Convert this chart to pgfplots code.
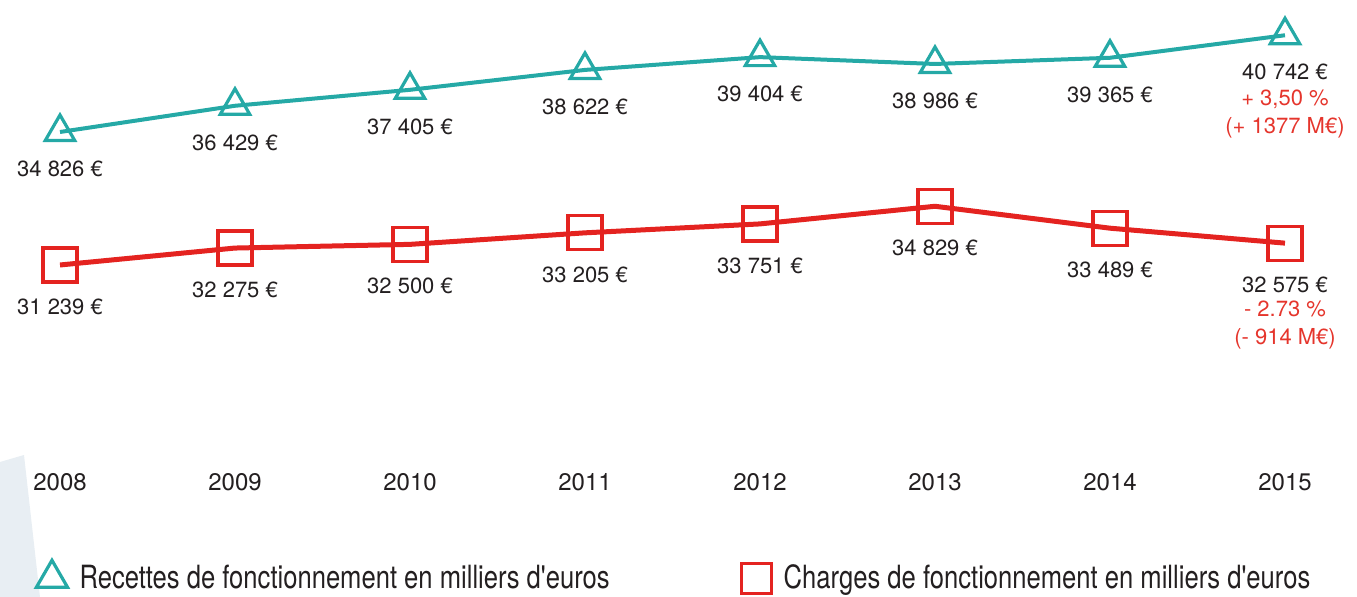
\documentclass[border=0pt]{standalone}
\usepackage{pgfplots}
\pgfplotsset{compat=1.18}
\usepackage{fontspec}
\setmainfont{TeX Gyre Heros}
\newfontfamily\legfont{TeX Gyre Heros}[FakeStretch=0.8]
\definecolor{teal1}{HTML}{25A9A6}
\definecolor{red1}{HTML}{E42320}
\definecolor{txt}{HTML}{231F20}
\definecolor{redtxt}{HTML}{E5352C}
\definecolor{bgshape}{HTML}{E8EEF3}
\pgfplotsset{base/.style={scale only axis, width=612.5pt, height=222.5pt,
  xmin=2008, xmax=2015, clip=false, axis line style={draw=none},
  ytick=\empty, major tick length=0pt, at={(30pt,66pt)}, anchor=south west}}
\begin{document}
\begin{tikzpicture}
\path[use as bounding box] (0,0) rectangle (678.5pt,298.5pt);
\fill[bgshape] (0,67.5pt) -- (12pt,71pt) -- (20pt,0) -- (0,0) -- cycle;
% Recettes
\begin{axis}[base, ymin=14460, ymax=41676, xtick=\empty]
\addplot[teal1, line width=2pt, mark=triangle, mark size=8.5pt,
  mark options={fill=white, line width=1.6pt, solid},
  point meta=explicit symbolic, nodes near coords,
  every node near coord/.style={anchor=center, yshift=-18.5pt, inner sep=0pt,
    font=\fontsize{11}{13}\selectfont, text=txt}]
coordinates {
(2008,34826) [34 826 €]
(2009,36429) [36 429 €]
(2010,37405) [37 405 €]
(2011,38622) [38 622 €]
(2012,39404) [39 404 €]
(2013,38986) [38 986 €]
(2014,39365) [39 365 €]
(2015,40742) [40 742 €]
};
\node[text=redtxt, font=\fontsize{11}{14}\selectfont, align=center, anchor=center, inner sep=0pt, yshift=-39.5pt]
  at (axis cs:2015,40742) {+ 3,50 \%\\(+ 1377 M€)};
\end{axis}
% Charges
\begin{axis}[base, ymin=19007, ymax=46223,
  xtick={2008,2009,2010,2011,2012,2013,2014,2015},
  xticklabels={2008,2009,2010,2011,2012,2013,2014,2015},
  x tick label style={anchor=center, yshift=-8.5pt, font=\fontsize{12}{14}\selectfont, text=txt},
  legend columns=2,
  legend style={at={(-0.0245,-0.254)}, anchor=west, draw=none, fill=none,
    font=\legfont\fontsize{16}{18}\selectfont, text=txt,
    /tikz/every odd column/.append style={column sep=4pt},
    /tikz/every even column/.append style={column sep=64pt}},
  legend cell align=left]
\addlegendimage{only marks, mark=triangle, mark size=9pt, teal1, mark options={line width=1.6pt, fill=white}}
\addlegendentry{Recettes de fonctionnement en milliers d'euros}
\addlegendimage{only marks, mark=square, mark size=7.5pt, red1, mark options={line width=1.6pt, fill=white}}
\addlegendentry{Charges de fonctionnement en milliers d'euros}
\addplot[red1, line width=2.5pt, mark=square, mark size=8.5pt,
  mark options={fill=white, line width=1.6pt, solid}, forget plot,
  point meta=explicit symbolic, nodes near coords,
  every node near coord/.style={anchor=center, yshift=-21pt, inner sep=0pt,
    font=\fontsize{11}{13}\selectfont, text=txt}]
coordinates {
(2008,31239) [31 239 €]
(2009,32275) [32 275 €]
(2010,32500) [32 500 €]
(2011,33205) [33 205 €]
(2012,33751) [33 751 €]
(2013,34829) [34 829 €]
(2014,33489) [33 489 €]
(2015,32575) [32 575 €]
};
\node[text=redtxt, font=\fontsize{11}{14}\selectfont, align=center, anchor=center, inner sep=0pt, yshift=-41pt]
  at (axis cs:2015,32575) {- 2.73 \%\\(- 914 M€)};
\end{axis}
\end{tikzpicture}
\end{document}
